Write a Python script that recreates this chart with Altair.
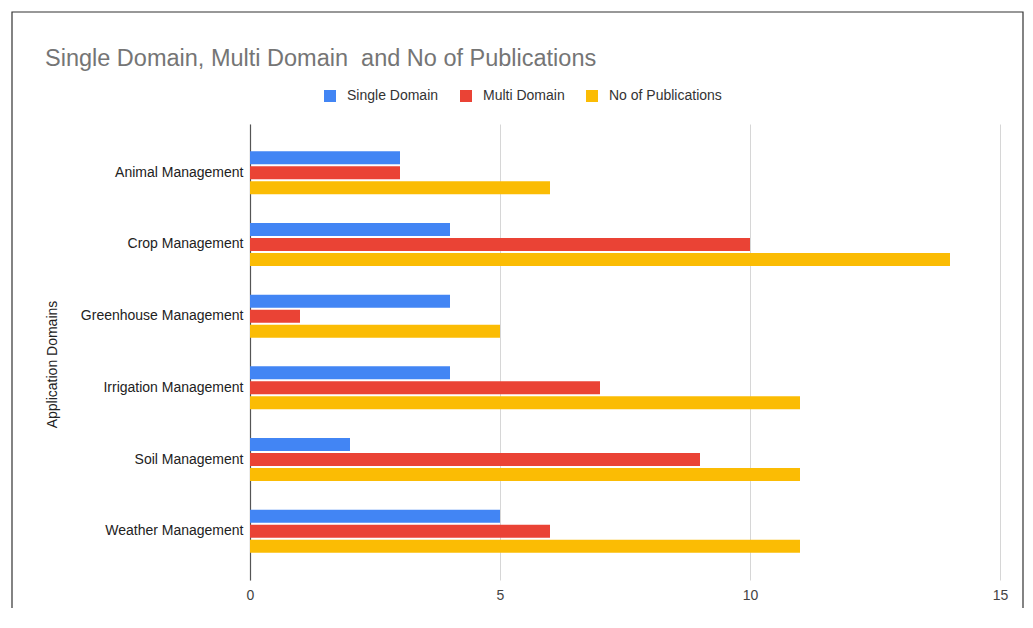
import altair as alt
import pandas as pd

categories = ["Animal Management", "Crop Management", "Greenhouse Management",
              "Irrigation Management", "Soil Management", "Weather Management"]
series = ["Single Domain", "Multi Domain", "No of Publications"]
single_domain = [3, 4, 4, 4, 2, 5]
multi_domain = [3, 10, 1, 7, 9, 6]
publications = [6, 14, 5, 11, 11, 11]
colors = ["#4285F4", "#EA4335", "#FBBC04"]

rows = []
for i, c in enumerate(categories):
    for s, vals in zip(series, [single_domain, multi_domain, publications]):
        rows.append({"Domain": c, "Series": s, "Value": vals[i]})
df = pd.DataFrame(rows)

FONT = "Arial, Liberation Sans, sans-serif"

frame = alt.Chart(pd.DataFrame({"a": [0]})).mark_rect(
    fill=None, stroke="#333333", strokeWidth=1.2
).encode(
    x=alt.value(-238), x2=alt.value(773),
    y=alt.value(-112), y2=alt.value(700)
)

bars = alt.Chart(df).mark_bar().encode(
    y=alt.Y("Domain:N", sort=categories,
            scale=alt.Scale(paddingInner=0.4, paddingOuter=0.38),
            axis=alt.Axis(title="Application Domains", labelFont=FONT,
                          labelFontSize=14, labelColor="#222222",
                          labelPadding=7, ticks=False, domain=True,
                          domainColor="#555555", domainWidth=1.2,
                          titleFont=FONT, titleFontSize=14,
                          titleFontWeight="normal", titleColor="#222222",
                          titleX=-198, titleY=240, titleAngle=270,
                          titleAlign="center", titleBaseline="middle")),
    yOffset=alt.YOffset("Series:N", sort=series,
                        scale=alt.Scale(paddingInner=0.133, paddingOuter=0)),
    x=alt.X("Value:Q", scale=alt.Scale(domain=[0, 15], nice=False),
            axis=alt.Axis(title=None, values=[0, 5, 10, 15], labelFont=FONT,
                          labelFontSize=14, labelColor="#444444",
                          labelPadding=8, labelFlush=False, ticks=False,
                          domain=False, grid=True, gridColor="#d6d6d6",
                          gridWidth=1)),
    color=alt.Color("Series:N", sort=series,
                    scale=alt.Scale(domain=series, range=colors),
                    legend=alt.Legend(title=None, orient="none",
                                      direction="horizontal",
                                      legendX=73, legendY=-35,
                                      symbolType="square", symbolSize=144,
                                      symbolStrokeWidth=0,
                                      labelFont=FONT, labelFontSize=14,
                                      labelColor="#333333", labelOffset=10,
                                      columnPadding=20, padding=0))
)

chart = alt.layer(frame, bars).properties(
    width=750, height=456,
    padding={"left": 242, "top": 116, "right": 25, "bottom": 28},
    autosize=alt.AutoSizeParams(type="none"),
    title=alt.TitleParams(
        "Single Domain, Multi Domain \u00a0and No of Publications",
        anchor="start", frame="group", dx=-205, dy=78, offset=0,
        baseline="alphabetic", font=FONT, fontSize=23.5,
        fontWeight="normal", color="#757575")
).configure_view(stroke=None)

chart.save("out.html", embed_options={"renderer": "svg", "actions": False})
